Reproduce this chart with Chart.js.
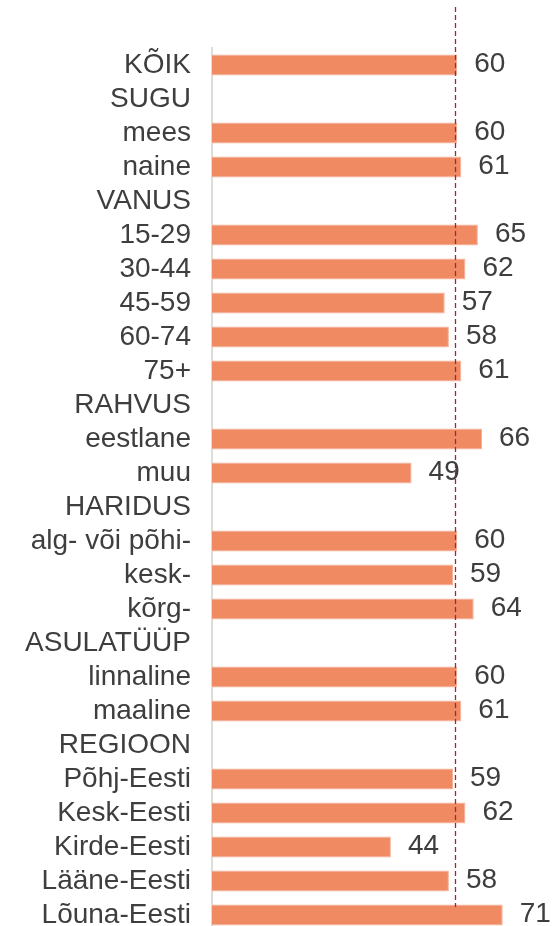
<!DOCTYPE html>
<html>
<head>
<meta charset="utf-8">
<script src="https://cdn.jsdelivr.net/npm/chart.js@4/dist/chart.umd.min.js"></script>
<style>
html,body{margin:0;padding:0;background:#fff;overflow:hidden;}
#wrap{position:relative;width:554px;height:932px;}
</style>
</head>
<body>
<div id="wrap"><canvas id="c"></canvas></div>
<script>
const categories = ["KÕIK","SUGU","mees","naine","VANUS","15-29","30-44","45-59","60-74","75+","RAHVUS","eestlane","muu","HARIDUS","alg- või põhi-","kesk-","kõrg-","ASULATÜÜP","linnaline","maaline","REGIOON","Põhj-Eesti","Kesk-Eesti","Kirde-Eesti","Lääne-Eesti","Lõuna-Eesti"];
const values = [60,null,60,61,null,65,62,57,58,61,null,66,49,null,60,59,64,null,60,61,null,59,62,44,58,71];
const referenceValue = 59.4;

const FONT = '"Liberation Sans", Arial, sans-serif';
const TEXT = '#3e3e3e';

const refLine = {
  id: 'refLine',
  afterDatasetsDraw(chart) {
    const {ctx, chartArea, scales} = chart;
    const x = Math.round(scales.x.getPixelForValue(referenceValue)) + 0.5;
    ctx.save();
    ctx.strokeStyle = '#a8203c';
    ctx.lineWidth = 1.3;
    ctx.setLineDash([5, 3]);
    ctx.beginPath();
    ctx.moveTo(x, chartArea.top - 41);
    ctx.lineTo(x, chartArea.bottom - 25);
    ctx.stroke();
    ctx.restore();
  }
};

const valueLabels = {
  id: 'valueLabels',
  afterDatasetsDraw(chart) {
    const {ctx} = chart;
    const meta = chart.getDatasetMeta(0);
    ctx.save();
    ctx.font = '28px ' + FONT;
    ctx.fillStyle = TEXT;
    ctx.textAlign = 'left';
    ctx.textBaseline = 'middle';
    meta.data.forEach((bar, i) => {
      const v = values[i];
      if (v === null || v === undefined) return;
      ctx.fillText(String(v), bar.x + 17, bar.y - 1);
    });
    ctx.restore();
  }
};

new Chart(document.getElementById('c'), {
  type: 'bar',
  data: {
    labels: categories,
    datasets: [{
      data: values,
      backgroundColor: '#f08a62',
      borderColor: '#f4b298',
      borderWidth: 1,
      borderSkipped: 'start',
      barPercentage: 0.62,
      categoryPercentage: 1.0
    }]
  },
  options: {
    indexAxis: 'y',
    responsive: true,
    maintainAspectRatio: false,
    animation: false,
    events: [],
    layout: { padding: { top: 48, right: 14, bottom: 0, left: 0 } },
    plugins: { legend: { display: false }, tooltip: { enabled: false } },
    scales: {
      x: {
        display: false,
        min: 0.8,
        max: 80
      },
      y: {
        afterFit(scale) { scale.width = 212; scale.paddingTop = 0; scale.paddingBottom = 0; },
        grid: { display: false, drawTicks: false },
        border: { display: true, color: '#dcdcdc', width: 2 },
        ticks: {
          padding: 21,
          color: TEXT,
          font: { family: FONT, size: 28 },
          autoSkip: false
        }
      }
    }
  },
  plugins: [refLine, valueLabels]
});
</script>
</body>
</html>
